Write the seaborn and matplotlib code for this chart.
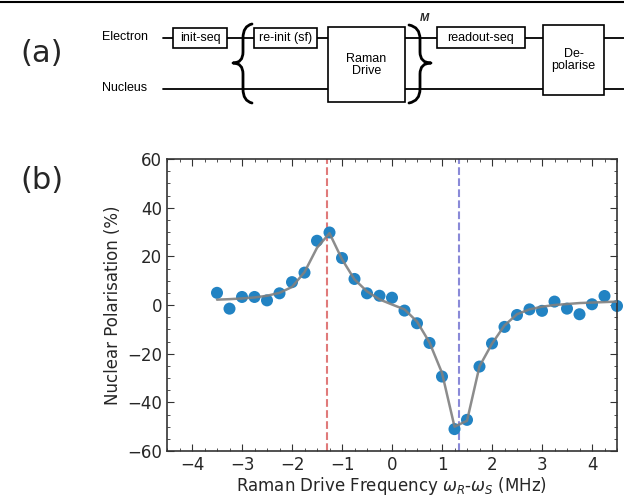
import numpy as np
import pandas as pd
import matplotlib
matplotlib.use("Agg")
import matplotlib.pyplot as plt
from matplotlib.patches import Rectangle, PathPatch
from matplotlib.path import Path
from matplotlib.ticker import MultipleLocator
import seaborn as sns

# ---- data ----
freq = [-3.5, -3.25, -3.0, -2.75, -2.5, -2.25, -2.0, -1.75, -1.5, -1.25,
        -1.0, -0.75, -0.5, -0.25, 0.0, 0.25, 0.5, 0.75, 1.0, 1.25,
        1.5, 1.75, 2.0, 2.25, 2.5, 2.75, 3.0, 3.25, 3.5, 3.75,
        4.0, 4.25, 4.5]
polarisation = [5.0, -1.5, 3.3, 3.3, 1.9, 4.8, 9.4, 13.3, 26.4, 29.8,
                19.3, 10.7, 4.8, 3.8, 3.0, -2.3, -7.5, -15.6, -29.4, -51.0,
                -47.2, -25.3, -15.8, -9.0, -4.1, -1.8, -2.4, 1.4, -1.5, -3.8,
                0.3, 3.7, -0.4]
fit = [2.2, 2.4, 2.7, 3.1, 3.8, 5.0, 7.4, 13.5, 23.5, 29.5,
       18.8, 10.5, 5.6, 2.3, 0.2, -1.8, -6.8, -15.4, -27.9, -50.0,
       -47.6, -25.2, -15.9, -8.4, -3.8, -1.8, -0.7, 0.0, 0.4, 0.8,
       1.0, 1.2, 1.4]
resonances = [-1.31, 1.33]
res_colors = ['#e07a7a', '#8a8ad8']
x_ticks = [-4, -3, -2, -1, 0, 1, 2, 3, 4]
y_ticks = [-60, -40, -20, 0, 20, 40, 60]

df = pd.DataFrame({'freq': freq, 'pol': polarisation, 'fit': fit})

sns.set_style('ticks')
plt.rcParams['font.family'] = ['DejaVu Sans']

W, H = 624, 498
fig = plt.figure(figsize=(W / 100, H / 100), dpi=100)

# ---- panel (a): sequence diagram in pixel coords ----
axd = fig.add_axes([0, 0, 1, 1])
axd.set_xlim(0, W)
axd.set_ylim(H, 0)
axd.axis('off')
axd.patch.set_alpha(0)

dfont = dict(family=['Liberation Sans', 'DejaVu Sans'], fontsize=9, color='black')
axd.plot([0, W], [1.5, 1.5], color='black', lw=1.5)
axd.text(42, 53, '(a)', fontsize=22, ha='center', va='center', family=['DejaVu Sans'])
axd.text(42, 180, '(b)', fontsize=22, ha='center', va='center', family=['DejaVu Sans'])

ey, ny = 38, 89
axd.plot([163, W], [ey, ey], color='black', lw=1.3, zorder=1)
axd.plot([163, W], [ny, ny], color='black', lw=1.3, zorder=1)
axd.text(102, ey - 1, 'Electron', ha='left', va='center', **dfont)
axd.text(102, ny - 1, 'Nucleus', ha='left', va='center', **dfont)

def box(x0, y0, x1, y1, label):
    axd.add_patch(Rectangle((x0, y0), x1 - x0, y1 - y0, facecolor='white',
                            edgecolor='black', lw=1.2, zorder=2))
    axd.text((x0 + x1) / 2, (y0 + y1) / 2, label, ha='center', va='center',
             zorder=3, linespacing=1.0, **dfont)

box(173, 28, 227, 48, 'init-seq')
box(254, 28, 317, 48, 're-init (sf)')
box(328, 27, 405, 102, 'Raman\nDrive')
box(437, 27, 525, 48, 'readout-seq')
box(543, 25, 604, 95, 'De-\npolarise')

def brace(x_end, x_spine, x_tip, y0, ymid, y1):
    verts = [(x_end, y0), (x_spine, y0 + 2), (x_spine, y0 + 14),
             (x_spine, ymid - 11), (x_spine, ymid), (x_tip, ymid),
             (x_spine, ymid), (x_spine, ymid + 11),
             (x_spine, y1 - 14), (x_spine, y1 - 2), (x_end, y1)]
    codes = [Path.MOVETO, Path.CURVE3, Path.CURVE3,
             Path.LINETO, Path.CURVE3, Path.CURVE3,
             Path.CURVE3, Path.CURVE3,
             Path.LINETO, Path.CURVE3, Path.CURVE3]
    axd.add_patch(PathPatch(Path(verts, codes), facecolor='none',
                            edgecolor='black', lw=2.0, zorder=4,
                            capstyle='round', joinstyle='round'))

brace(252, 243, 233, 24, 63, 103)
brace(409, 420, 431, 25, 63, 103)
axd.text(424, 18, 'M', fontsize=8, ha='center', va='center',
         fontweight='bold', fontstyle='italic', family=['Liberation Sans'])

# ---- panel (b) ----
ax = fig.add_axes([167 / W, 1 - 451 / H, (617 - 167) / W, (451 - 159) / H])
for xv, c in zip(resonances, res_colors):
    ax.axvline(xv, color=c, ls='--', lw=1.5, zorder=1)
sns.scatterplot(data=df, x='freq', y='pol', ax=ax, s=75, color='#2283c3',
                edgecolor='none', zorder=2, clip_on=False)
sns.lineplot(data=df, x='freq', y='fit', ax=ax, color='#808080', lw=1.8,
             zorder=3, alpha=0.9)

ax.set_xlim(-4.5, 4.5)
ax.set_ylim(-60, 60)
ax.set_xticks(x_ticks)
ax.set_yticks(y_ticks)
ax.xaxis.set_minor_locator(MultipleLocator(0.25))
ax.yaxis.set_minor_locator(MultipleLocator(5))
ax.tick_params(which='both', direction='in', top=True, right=True,
               labelsize=12, color='#333333')
ax.tick_params(which='major', length=5)
ax.tick_params(which='minor', length=2.5)
for s in ax.spines.values():
    s.set_color('#333333')
    s.set_linewidth(1.2)
ax.set_xlabel(r'Raman Drive Frequency $\omega_R$-$\omega_S$ (MHz)', fontsize=12,
              labelpad=1)
ax.set_ylabel('Nuclear Polarisation (%)', fontsize=12)

fig.savefig('out.png', dpi=100)
